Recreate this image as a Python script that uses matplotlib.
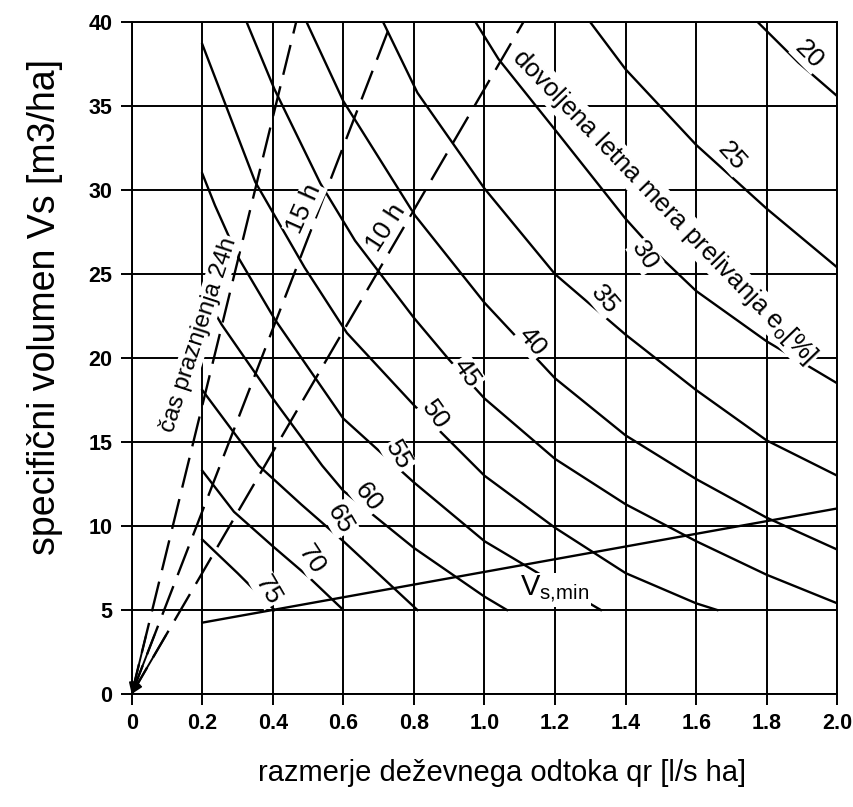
import numpy as np
import matplotlib.pyplot as plt

plt.rcParams['font.family'] = ['Liberation Sans', 'DejaVu Sans']

# axes
x_ticks = [0, 0.2, 0.4, 0.6, 0.8, 1.0, 1.2, 1.4, 1.6, 1.8, 2.0]
x_labels = ['0', '0.2', '0.4', '0.6', '0.8', '1.0', '1.2', '1.4', '1.6', '1.8', '2.0']
y_ticks = [0, 5, 10, 15, 20, 25, 30, 35, 40]

# curves of allowed annual overflow rate e0 [%]: qr [l/s ha] -> Vs [m3/ha]
q_20 = [1.775, 1.89, 2.0]
v_20 = [40.0, 37.6, 35.6]
q_25 = [1.30, 1.4, 1.6, 1.8, 2.0]
v_25 = [40.0, 37.2, 32.7, 28.9, 25.4]
q_30 = [0.975, 1.04, 1.2, 1.4, 1.49, 1.6, 1.8, 2.0]
v_30 = [40.0, 37.8, 33.6, 28.3, 26.2, 24.0, 21.0, 18.5]
q_35 = [0.713, 0.81, 1.0, 1.2, 1.4, 1.6, 1.8, 2.0]
v_35 = [40.0, 35.8, 30.1, 25.0, 21.4, 18.1, 15.1, 13.0]
q_40 = [0.496, 0.6, 0.803, 1.0, 1.2, 1.4, 1.6, 1.8, 2.0]
v_40 = [40.0, 35.3, 28.5, 23.3, 18.8, 15.4, 12.8, 10.5, 8.6]
q_45 = [0.326, 0.405, 0.535, 0.633, 0.8, 0.9, 1.0, 1.2, 1.4, 1.6, 1.8, 2.0]
v_45 = [40.0, 36.0, 30.4, 27.0, 22.4, 19.9, 17.6, 14.0, 11.3, 9.1, 7.1, 5.4]
q_50 = [0.2, 0.35, 0.49, 0.61, 0.8, 1.0, 1.2, 1.4, 1.6, 1.66]
v_50 = [38.7, 30.5, 25.4, 21.5, 17.2, 13.0, 9.9, 7.2, 5.4, 5.0]
q_55 = [0.2, 0.236, 0.302, 0.406, 0.6, 0.8, 1.0, 1.2, 1.33]
v_55 = [31.0, 29.1, 26.0, 22.3, 16.4, 12.6, 9.1, 6.6, 5.0]
q_60 = [0.2, 0.255, 0.4, 0.54, 0.6, 0.8, 1.0, 1.064]
v_60 = [24.0, 22.0, 17.6, 13.6, 12.1, 8.7, 5.8, 5.0]
q_65 = [0.2, 0.285, 0.36, 0.48, 0.6, 0.81]
v_65 = [18.1, 15.7, 13.6, 11.3, 9.1, 5.0]
q_70 = [0.2, 0.29, 0.4, 0.5, 0.6]
v_70 = [13.3, 10.85, 8.8, 7.0, 5.0]
q_75 = [0.2, 0.3, 0.405]
v_75 = [9.2, 7.2, 5.0]

e_names = ['20', '25', '30', '35', '40', '45', '50', '55', '60', '65', '70', '75']
label_q = [1.92, 1.70, 1.455, 1.34, 1.135, 0.95, 0.86, 0.755, 0.67, 0.59, 0.51, 0.386]
label_v = [38.1, 32.0, 26.1, 23.5, 21.0, 19.1, 16.6, 14.2, 11.7, 10.4, 8.0, 6.2]
label_rot = [-45, -48, -58, -50, -50, -55, -55, -60, -52, -60, -57, -60]

# minimum specific volume
q_vmin = [0.2, 2.0]
v_vmin = [4.25, 11.05]

# emptying time lines (from origin to top edge)
t_names = ['24h', '15 h', '10 h']
t_top_q = [0.466, 0.736, 1.11]

curves_q = [q_20, q_25, q_30, q_35, q_40, q_45, q_50, q_55, q_60, q_65, q_70, q_75]
curves_v = [v_20, v_25, v_30, v_35, v_40, v_45, v_50, v_55, v_60, v_65, v_70, v_75]

fig = plt.figure(figsize=(8.54, 8.07), dpi=100)
ax = fig.add_axes([0.1542, 0.140, 0.8262, 0.8324])

box = dict(fc='white', ec='none', pad=1.0)

for q, v in zip(curves_q, curves_v):
    ax.plot(q, v, color='black', lw=1.7, zorder=3)

for name, lq, lv, rot in zip(e_names, label_q, label_v, label_rot):
    ax.text(lq, lv, name, fontsize=19, rotation=rot, ha='center', va='center',
            rotation_mode='anchor', bbox=box, zorder=5)

ax.plot(q_vmin, v_vmin, color='black', lw=1.7, zorder=3)
ax.text(1.2, 6.2, 'V$_{\\mathregular{s{,}min}}$', fontsize=21, ha='center', va='center',
        bbox=box, zorder=5)

for tq in t_top_q:
    ax.plot([0, tq], [0, 40], color='black', lw=1.7, ls=(0, (13, 5)), zorder=3)
    ax.annotate('', xy=(0, 0), xytext=(tq * 3.5 / 40, 3.5),
                arrowprops=dict(arrowstyle='-|>', color='black', lw=1.4,
                                mutation_scale=16, shrinkA=0, shrinkB=0), zorder=4)

ax.text(0.19, 21.4, 'čas praznjenja 24h', fontsize=17.5, rotation=72, ha='center', va='center',
        rotation_mode='anchor', bbox=box, zorder=5)
ax.text(0.49, 28.9, '15 h', fontsize=19, rotation=66, ha='center', va='center',
        rotation_mode='anchor', bbox=box, zorder=5)
ax.text(0.72, 27.8, '10 h', fontsize=19, rotation=57, ha='center', va='center',
        rotation_mode='anchor', bbox=box, zorder=5)
ax.text(1.51, 29.0, 'dovoljena letna mera prelivanja e$_{\\mathregular{o}}$[%]', fontsize=18.5,
        rotation=-46, ha='center', va='center', rotation_mode='anchor', bbox=box, zorder=5)

ax.set_xlim(0, 2.0)
ax.set_ylim(0, 40)
ax.set_xticks(x_ticks)
ax.set_xticklabels(x_labels)
ax.set_yticks(y_ticks)
ax.grid(True, color='black', lw=1.4, zorder=1)
ax.set_axisbelow(True)
for s in ax.spines.values():
    s.set_linewidth(1.4)
ax.tick_params(direction='out', length=8, width=1.4, labelsize=15.5, pad=6)
for lab in ax.get_xticklabels() + ax.get_yticklabels():
    lab.set_fontweight('bold')

fig.text(0.053, 0.62, 'specifični volumen Vs [m3/ha]', rotation=90, fontsize=27,
         ha='center', va='center')
fig.text(0.588, 0.042, 'razmerje deževnega odtoka qr [l/s ha]', fontsize=21,
         ha='center', va='center')

fig.savefig('out.png', dpi=100)
